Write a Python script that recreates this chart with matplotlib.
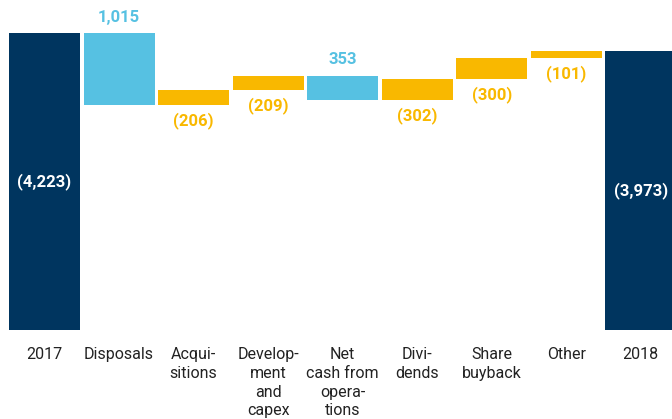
import numpy as np
import matplotlib
matplotlib.use("Agg")
import matplotlib.pyplot as plt

# net debt bridge, values in millions
categories = ["2017", "Disposals", "Acqui-\nsitions", "Develop-\nment\nand\ncapex",
              "Net\ncash from\nopera-\ntions", "Divi-\ndends", "Share\nbuyback", "Other", "2018"]
start_value = 4223
changes = [-1015, 206, 209, -353, 302, 300, 101]   # + adds to debt, - reduces it
end_value = 3973
value_labels = ["(4,223)", "1,015", "(206)", "(209)", "353", "(302)", "(300)", "(101)", "(3,973)"]

navy = "#00355F"
light_blue = "#56C1E2"
orange = "#F9B800"

plt.rcParams['font.family'] = ['Roboto', 'DejaVu Sans']

fig = plt.figure(figsize=(6.72, 4.19), dpi=100)
ax = fig.add_axes([0, 89 / 419, 1, 330 / 419])

x = np.arange(len(categories))
width = 0.953

# running totals
bottoms = []
heights = []
colors = []
level = start_value
bottoms.append(0)
heights.append(start_value)
colors.append(navy)
for c in changes:
    new_level = level + c
    bottoms.append(min(level, new_level))
    heights.append(abs(c))
    colors.append(orange if c > 0 else light_blue)
    level = new_level
bottoms.append(0)
heights.append(end_value)
colors.append(navy)

ax.bar(x, heights, bottom=bottoms, width=width, color=colors, linewidth=0)

ax.set_xlim(-0.597, 8.42)
ax.set_ylim(0, 4700)

# value labels
for i, lab in enumerate(value_labels):
    if i == 0 or i == len(categories) - 1:
        ax.text(x[i], heights[i] / 2, lab, ha="center", va="center",
                color="white", fontsize=12, fontweight="bold")
    elif changes[i - 1] < 0:
        ax.annotate(lab, (x[i], bottoms[i] + heights[i]), xytext=(0, 6),
                    textcoords="offset points", ha="center", va="bottom",
                    color=light_blue, fontsize=12, fontweight="bold")
    else:
        ax.annotate(lab, (x[i], bottoms[i]), xytext=(0, -5),
                    textcoords="offset points", ha="center", va="top",
                    color=orange, fontsize=12, fontweight="bold")

# category labels under the bars
for i, cat in enumerate(categories):
    ax.annotate(cat, (x[i], 0), xytext=(0, -12.5), textcoords="offset points",
                ha="center", va="top", fontsize=11.5, color="#222222",
                linespacing=1.3, annotation_clip=False)

ax.axis("off")

plt.savefig("out.png", dpi=100)
